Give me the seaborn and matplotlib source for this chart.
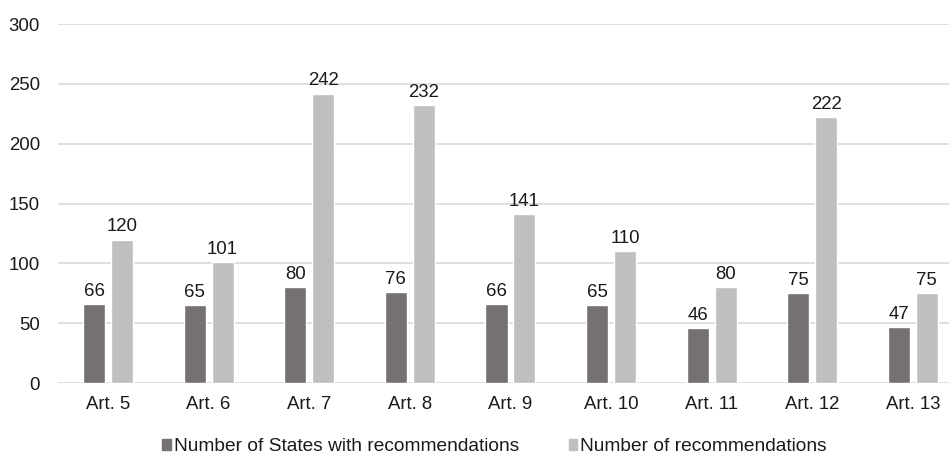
import pandas as pd
import seaborn as sns
import matplotlib.pyplot as plt

# Datos del gráfico
articles = ['Art. 5', 'Art. 6', 'Art. 7', 'Art. 8', 'Art. 9', 'Art. 10', 'Art. 11', 'Art. 12', 'Art. 13']
states_with_recs = [66, 65, 80, 76, 66, 65, 46, 75, 47]
num_recs = [120, 101, 242, 232, 141, 110, 80, 222, 75]

series_names = ['Number of States with recommendations', 'Number of recommendations']
colors = ['#767171', '#BFBFBF']

df = pd.DataFrame({
    'article': articles * 2,
    'value': states_with_recs + num_recs,
    'series': [series_names[0]] * len(articles) + [series_names[1]] * len(articles),
})

sns.set_style('white')
plt.rcParams['font.family'] = ['Liberation Sans', 'DejaVu Sans']
fs = 13.4

fig = plt.figure(figsize=(9.51, 4.55), dpi=100)
ax = fig.add_axes([0.061, 0.158, 0.937, 0.789])

sns.barplot(data=df, x='article', y='value', hue='series', order=articles,
            hue_order=series_names, palette=colors, width=0.556, gap=0.21,
            saturation=1, ax=ax, legend=False)

# Etiquetas de valores
for cont in ax.containers:
    ax.bar_label(cont, fmt='%d', padding=3, fontsize=fs, color='#1a1a1a')

ax.set_ylim(0, 300)
ax.set_yticks(range(0, 301, 50))
ax.set_xlim(-0.497, 8.36)
ax.yaxis.grid(True, color='#D9D9D9', linewidth=1.2)
ax.set_axisbelow(True)
for s in ax.spines.values():
    s.set_visible(False)
ax.tick_params(axis='both', length=0, labelsize=fs, labelcolor='#1a1a1a')
ax.tick_params(axis='y', pad=13)
ax.tick_params(axis='x', pad=9)
ax.set_xlabel('')
ax.set_ylabel('')

# Leyenda
handles = [plt.Rectangle((0, 0), 1, 1, color=c) for c in colors]
fig.legend(handles, series_names, loc='center', bbox_to_anchor=(0.52, 0.018),
           ncol=2, frameon=False, fontsize=13.8, handlelength=0.45, handleheight=0.45,
           handletextpad=0.15, columnspacing=2.6, labelcolor='#1a1a1a',
           borderpad=0, borderaxespad=0)

fig.savefig('out.png', dpi=100)
